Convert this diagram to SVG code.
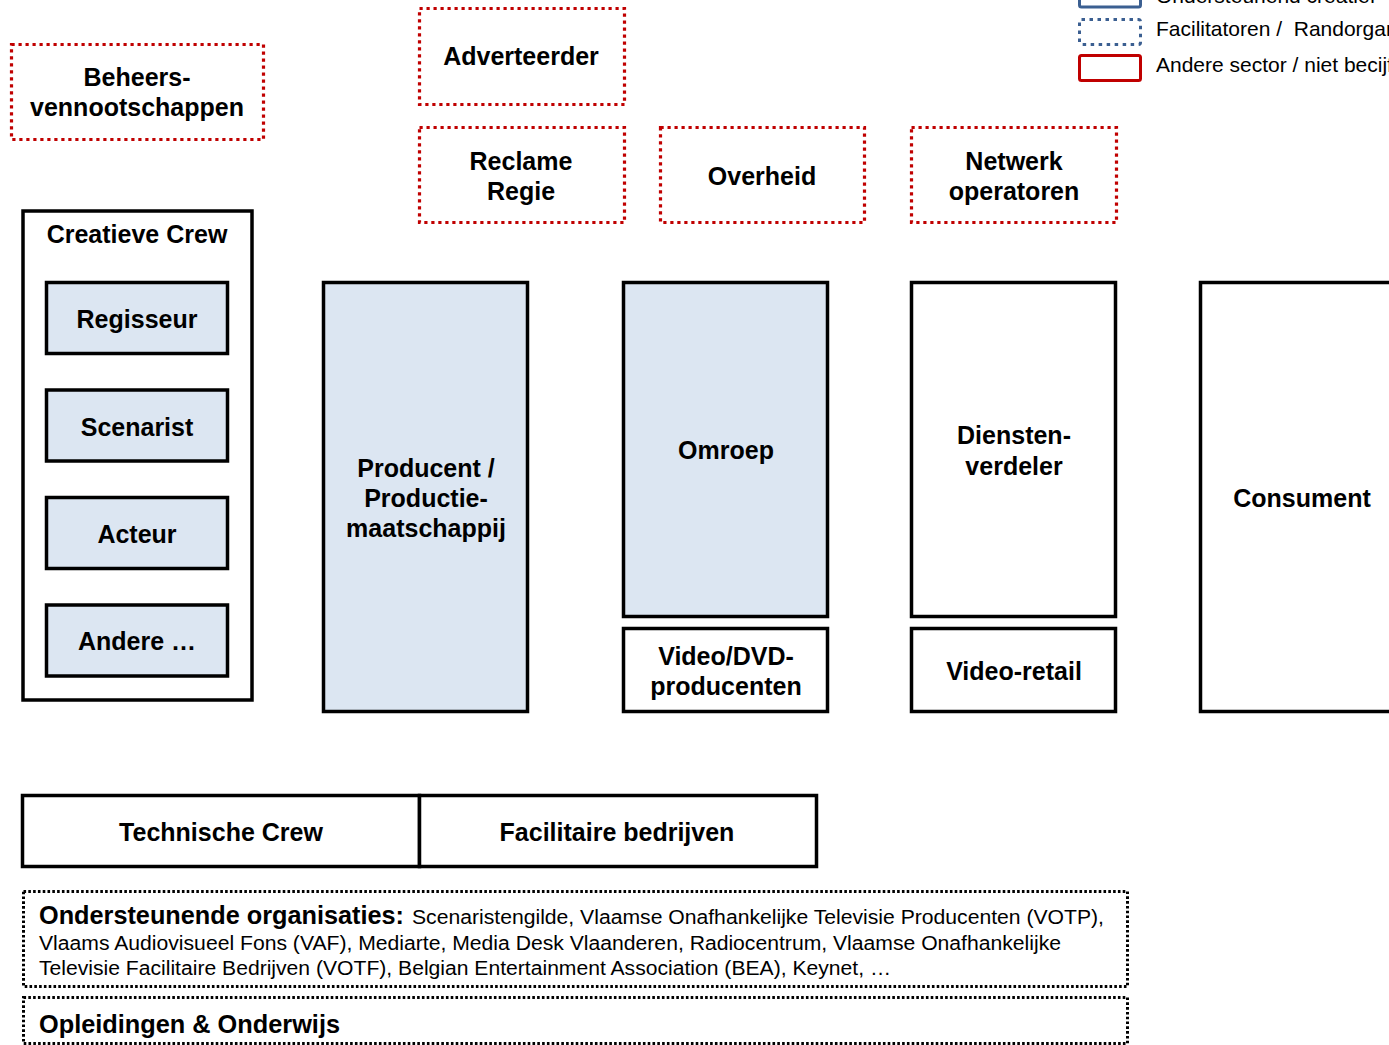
<svg xmlns="http://www.w3.org/2000/svg" width="1389" height="1045" viewBox="0 0 1389 1045">
  <style>
    .bg { fill: #ffffff; }
    .box { fill: #ffffff; stroke: #000000; stroke-width: 3.5; }
    .core { fill: #dce6f2; stroke: #000000; stroke-width: 3.5; }
    .other { fill: none; stroke: #c00000; stroke-width: 3.2; stroke-dasharray: 3.2 3.8; }
    .support { fill: none; stroke: #000000; stroke-width: 3; stroke-dasharray: 2.6 2.2; }
    .lg-core { fill: none; stroke: #3b5f91; stroke-width: 3; }
    .lg-fac { fill: none; stroke: #3b5f91; stroke-width: 3; stroke-dasharray: 3.5 4.5; }
    .lg-other { fill: none; stroke: #c00000; stroke-width: 3; }
    text { font-family: "Liberation Sans", Arial, sans-serif; fill: #000000; }
    .lbl { font-size: 25px; font-weight: bold; text-anchor: middle; }
    .hd { font-size: 25.3px; font-weight: bold; }
    .sm { font-size: 20px; }
    .lg { font-size: 21px; }
  </style>

  <rect class="bg" x="0" y="0" width="1389" height="1045"/>

  <!-- legend -->
  <g id="legend">
    <rect class="lg-core" x="1079.5" y="-20" width="61" height="27" rx="2"/>
    <text class="lg" x="1156" y="3">Ondersteunend creatief</text>
    <rect class="lg-fac" x="1079.5" y="19.5" width="61" height="25" rx="2"/>
    <text class="lg" x="1156" y="36" xml:space="preserve">Facilitatoren /  Randorganisaties</text>
    <rect class="lg-other" x="1079.5" y="55.5" width="61" height="25" rx="2"/>
    <text class="lg" x="1156" y="72">Andere sector / niet becijferd</text>
  </g>

  <!-- other sectors (red dotted) -->
  <g id="beheersvennootschappen">
    <rect class="other" x="11.5" y="44.5" width="252" height="95"/>
    <text class="lbl" x="137" y="86">Beheers-</text>
    <text class="lbl" x="137" y="116">vennootschappen</text>
  </g>
  <g id="adverteerder">
    <rect class="other" x="419.5" y="8.5" width="205" height="96"/>
    <text class="lbl" x="521" y="65">Adverteerder</text>
  </g>
  <g id="reclame-regie">
    <rect class="other" x="419.5" y="127.5" width="205" height="95"/>
    <text class="lbl" x="521" y="170">Reclame</text>
    <text class="lbl" x="521" y="200">Regie</text>
  </g>
  <g id="overheid">
    <rect class="other" x="660.5" y="127.5" width="204" height="95"/>
    <text class="lbl" x="762" y="185">Overheid</text>
  </g>
  <g id="netwerk-operatoren">
    <rect class="other" x="911.5" y="127.5" width="205" height="95"/>
    <text class="lbl" x="1014" y="170">Netwerk</text>
    <text class="lbl" x="1014" y="200">operatoren</text>
  </g>

  <!-- creative crew -->
  <g id="creatieve-crew">
    <rect class="box" x="23" y="211" width="229" height="489"/>
    <text class="lbl" x="137" y="243">Creatieve Crew</text>
  </g>
  <g id="regisseur">
    <rect class="core" x="46.5" y="282.5" width="181" height="71"/>
    <text class="lbl" x="137" y="328">Regisseur</text>
  </g>
  <g id="scenarist">
    <rect class="core" x="46.5" y="390" width="181" height="71"/>
    <text class="lbl" x="137" y="436">Scenarist</text>
  </g>
  <g id="acteur">
    <rect class="core" x="46.5" y="497.5" width="181" height="71"/>
    <text class="lbl" x="137" y="543">Acteur</text>
  </g>
  <g id="andere">
    <rect class="core" x="46.5" y="605" width="181" height="71"/>
    <text class="lbl" x="137" y="650">Andere …</text>
  </g>

  <!-- value chain -->
  <g id="producent">
    <rect class="core" x="323.5" y="282.5" width="204" height="429"/>
    <text class="lbl" x="426" y="477">Producent /</text>
    <text class="lbl" x="426" y="507">Productie-</text>
    <text class="lbl" x="426" y="537">maatschappij</text>
  </g>
  <g id="omroep">
    <rect class="core" x="623.5" y="282.5" width="204" height="334"/>
    <text class="lbl" x="726" y="459">Omroep</text>
  </g>
  <g id="video-dvd-producenten">
    <rect class="box" x="623.5" y="628.5" width="204" height="83"/>
    <text class="lbl" x="726" y="665">Video/DVD-</text>
    <text class="lbl" x="726" y="695">producenten</text>
  </g>
  <g id="dienstenverdeler">
    <rect class="box" x="911.5" y="282.5" width="204" height="334"/>
    <text class="lbl" x="1014" y="444">Diensten-</text>
    <text class="lbl" x="1014" y="475">verdeler</text>
  </g>
  <g id="video-retail">
    <rect class="box" x="911.5" y="628.5" width="204" height="83"/>
    <text class="lbl" x="1014" y="680">Video-retail</text>
  </g>
  <g id="consument">
    <rect class="box" x="1200.5" y="282.5" width="220" height="429"/>
    <text class="lbl" x="1302" y="507">Consument</text>
  </g>

  <!-- technical support -->
  <g id="technische-crew">
    <rect class="box" x="22.5" y="795.5" width="397" height="71"/>
    <text class="lbl" x="221" y="841">Technische Crew</text>
  </g>
  <g id="facilitaire-bedrijven">
    <rect class="box" x="419.5" y="795.5" width="397" height="71"/>
    <text class="lbl" x="617" y="841">Facilitaire bedrijven</text>
  </g>

  <!-- supporting organisations -->
  <g id="ondersteunende-organisaties">
    <rect class="support" x="23.5" y="891.5" width="1104" height="95"/>
    <text class="hd" x="39" y="924" textLength="365" lengthAdjust="spacingAndGlyphs">Ondersteunende organisaties:</text>
    <text class="sm" x="412" y="924" textLength="692" lengthAdjust="spacingAndGlyphs">Scenaristengilde, Vlaamse Onafhankelijke Televisie Producenten (VOTP),</text>
    <text class="sm" x="39" y="950" textLength="1022" lengthAdjust="spacingAndGlyphs">Vlaams Audiovisueel Fons (VAF), Mediarte, Media Desk Vlaanderen, Radiocentrum, Vlaamse Onafhankelijke</text>
    <text class="sm" x="39" y="975" textLength="852" lengthAdjust="spacingAndGlyphs">Televisie Facilitaire Bedrijven (VOTF), Belgian Entertainment Association (BEA), Keynet, …</text>
  </g>
  <g id="opleidingen-onderwijs">
    <rect class="support" x="23.5" y="997.5" width="1104" height="46"/>
    <text class="hd" x="39" y="1033" textLength="301" lengthAdjust="spacingAndGlyphs">Opleidingen &amp; Onderwijs</text>
  </g>

  <!-- no connectors are drawn between the blocks -->
  <g id="connectors"/>
</svg>
